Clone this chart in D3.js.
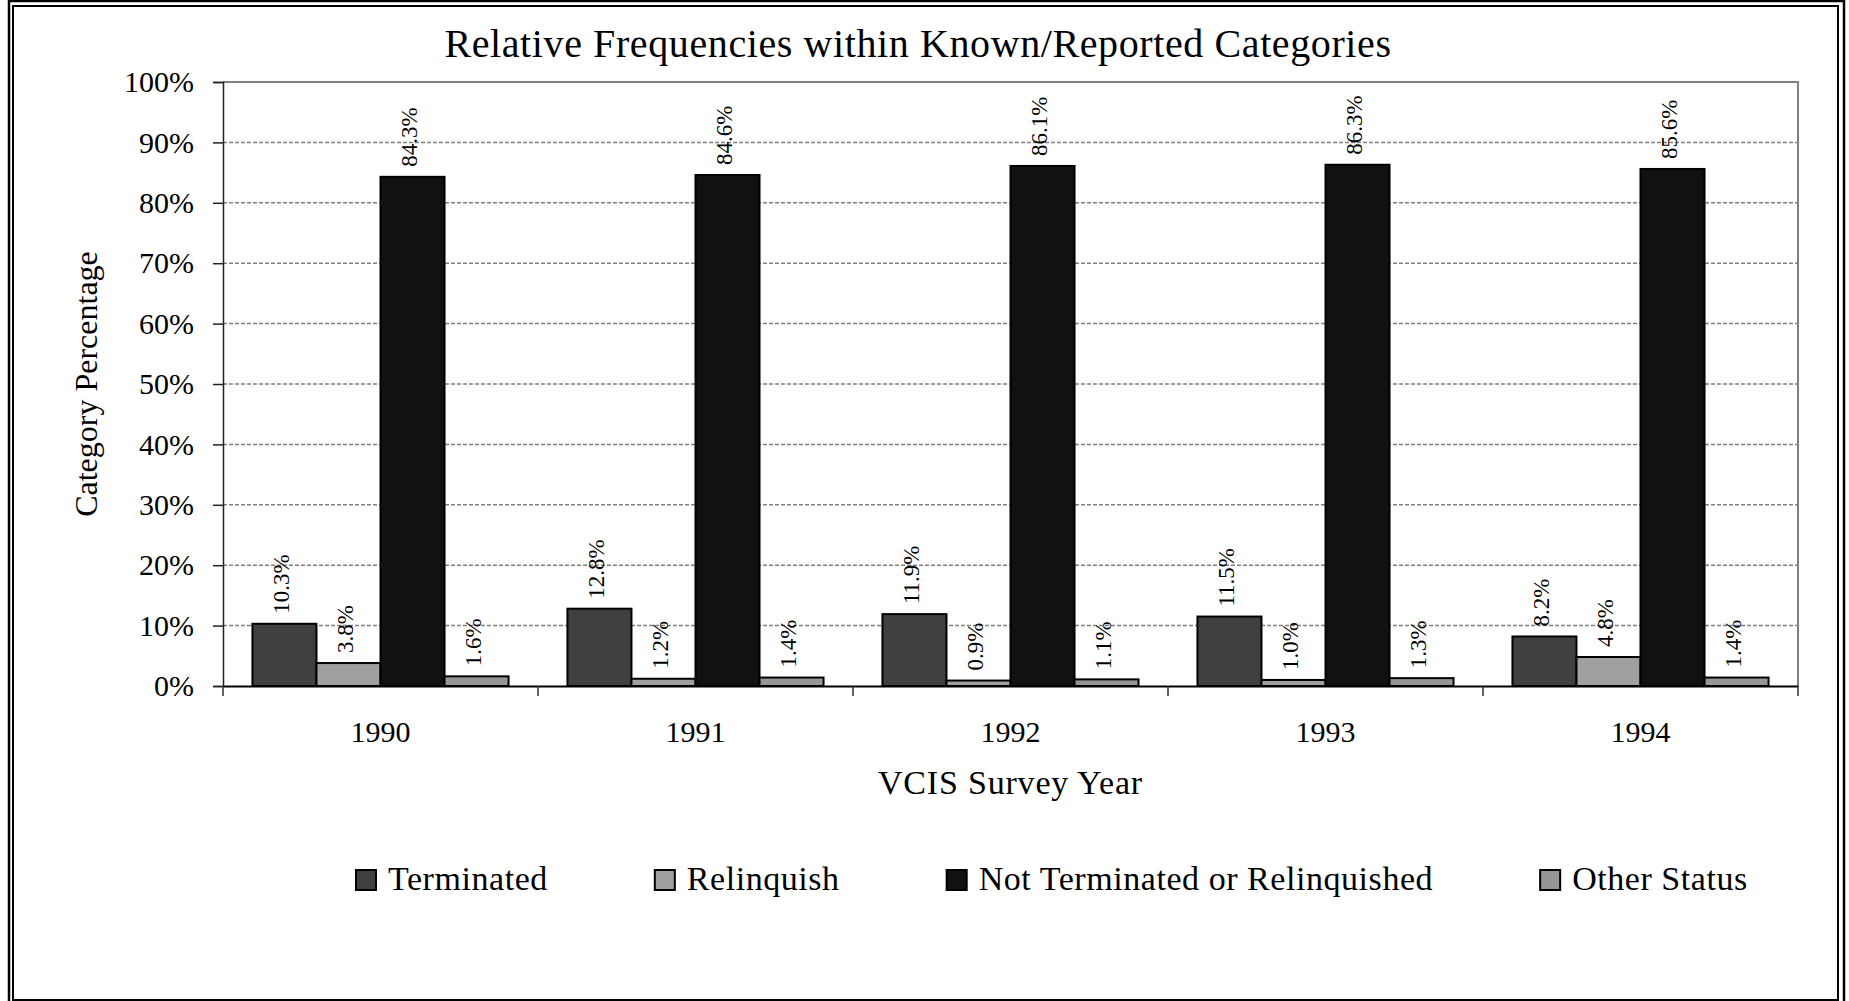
<!DOCTYPE html>
<html>
<head>
<meta charset="utf-8">
<script src="https://cdn.jsdelivr.net/npm/d3@7"></script>
<style>
  body { margin: 0; background: #fff; }
  text { font-family: "Liberation Serif", "Times New Roman", serif; fill: #000; }
</style>
</head>
<body>
<div id="chart"></div>
<script>
// Data
var years = ["1990", "1991", "1992", "1993", "1994"];
var seriesNames = ["Terminated", "Relinquish", "Not Terminated or Relinquished", "Other Status"];
var terminated = [10.3, 12.8, 11.9, 11.5, 8.2];
var relinquish = [3.8, 1.2, 0.9, 1.0, 4.8];
var notTerminated = [84.3, 84.6, 86.1, 86.3, 85.6];
var otherStatus = [1.6, 1.4, 1.1, 1.3, 1.4];
var yTicks = [0, 10, 20, 30, 40, 50, 60, 70, 80, 90, 100];

var colors = ["#404040", "#a0a0a0", "#111111", "#969696"];

var svgWidth = 1849;
var svgHeight = 1001;

var margin = { top: 82, right: 51, bottom: 315, left: 223 };
var width = svgWidth - margin.left - margin.right;
var height = svgHeight - margin.top - margin.bottom;

var svg = d3.select("#chart")
    .append("svg")
    .attr("width", svgWidth)
    .attr("height", svgHeight);

// double frame round the whole chart
svg.append("rect")
    .attr("x", 9).attr("y", 1)
    .attr("width", 1835).attr("height", 1008)
    .attr("fill", "none").attr("stroke", "#000").attr("stroke-width", 2.5);
svg.append("rect")
    .attr("x", 13).attr("y", 6)
    .attr("width", 1825).attr("height", 994)
    .attr("fill", "none").attr("stroke", "#000").attr("stroke-width", 2);

// build rows from the arrays
var allSeries = [terminated, relinquish, notTerminated, otherStatus];
var rows = years.map(function(yr, i) {
    return {
        year: yr,
        values: seriesNames.map(function(name, j) {
            return { name: name, value: allSeries[j][i], color: colors[j] };
        })
    };
});

var chartGroup = svg.append("g")
    .attr("transform", `translate(${margin.left}, ${margin.top})`);

var x0 = d3.scaleBand()
    .domain(years)
    .range([0, width])
    .padding(0);

var x1 = d3.scaleBand()
    .domain(seriesNames)
    .range([0, x0.bandwidth()])
    .paddingInner(0)
    .paddingOuter(0.46);

var y = d3.scaleLinear()
    .domain([0, 100])
    .range([height, 0]);

// gridlines
chartGroup.selectAll(".grid")
    .data(yTicks.filter(d => d > 0 && d < 100))
    .enter()
    .append("line")
    .attr("x1", 0)
    .attr("x2", width)
    .attr("y1", d => y(d))
    .attr("y2", d => y(d))
    .attr("stroke", "#808080")
    .attr("stroke-width", 1.5)
    .attr("stroke-dasharray", "4,2");

// plot frame top and right
chartGroup.append("path")
    .attr("d", `M0,${y(100)}H${width}V${y(0)}`)
    .attr("fill", "none")
    .attr("stroke", "#808080")
    .attr("stroke-width", 2);

// bars
var groups = chartGroup.selectAll(".year")
    .data(rows)
    .enter()
    .append("g")
    .attr("transform", d => `translate(${x0(d.year)}, 0)`);

groups.selectAll("rect")
    .data(d => d.values)
    .enter()
    .append("rect")
    .attr("x", d => x1(d.name))
    .attr("y", d => y(d.value))
    .attr("width", x1.bandwidth())
    .attr("height", d => height - y(d.value))
    .attr("fill", d => d.color)
    .attr("stroke", "#000")
    .attr("stroke-width", 2);

// value labels, rotated
groups.selectAll(".label")
    .data(d => d.values)
    .enter()
    .append("text")
    .attr("transform", d => `translate(${x1(d.name) + x1.bandwidth() / 2}, ${y(d.value) - 10}) rotate(-90)`)
    .attr("dy", "0.2em")
    .attr("font-size", "23px")
    .text(d => d.value.toFixed(1) + "%");

// y axis
var leftAxis = d3.axisLeft(y)
    .tickValues(yTicks)
    .tickSize(10)
    .tickPadding(19)
    .tickFormat(d => d + "%");

var yAxis = chartGroup.append("g").call(leftAxis);
yAxis.select(".domain").attr("stroke", "#222").attr("stroke-width", 1.5);
yAxis.selectAll(".tick line").attr("stroke", "#222").attr("stroke-width", 1.5);
yAxis.selectAll("text")
    .attr("font-size", "30px")
    .attr("font-family", "'Liberation Serif', 'Times New Roman', serif")
    .attr("fill", "#000");

// x axis
var bottomAxis = d3.axisBottom(x0)
    .tickSize(0)
    .tickPadding(35);

var xAxis = chartGroup.append("g")
    .attr("transform", `translate(0, ${height})`)
    .call(bottomAxis);
xAxis.select(".domain").attr("stroke", "#000").attr("stroke-width", 2);
xAxis.selectAll("text")
    .attr("font-size", "30px")
    .attr("font-family", "'Liberation Serif', 'Times New Roman', serif")
    .attr("fill", "#000");

// category boundary ticks
var bounds = years.map(d => x0(d)).concat([width]);
xAxis.selectAll(".bound")
    .data(bounds)
    .enter()
    .append("line")
    .attr("x1", d => d).attr("x2", d => d)
    .attr("y1", 0).attr("y2", 10)
    .attr("stroke", "#333")
    .attr("stroke-width", 1.5);

// titles
svg.append("text")
    .attr("x", 918)
    .attr("y", 57)
    .attr("text-anchor", "middle")
    .attr("font-size", "40px")
    .attr("letter-spacing", "0.6px")
    .text("Relative Frequencies within Known/Reported Categories");

svg.append("text")
    .attr("x", margin.left + width / 2)
    .attr("y", 794)
    .attr("text-anchor", "middle")
    .attr("font-size", "34px")
    .attr("letter-spacing", "0.8px")
    .text("VCIS Survey Year");

svg.append("text")
    .attr("transform", `translate(97, ${margin.top + height / 2}) rotate(-90)`)
    .attr("text-anchor", "middle")
    .attr("font-size", "32px")
    .text("Category Percentage");

// legend
var legend = svg.append("g")
    .attr("transform", "translate(355, 869)");

var lx = 0;
seriesNames.forEach(function(name, i) {
    var item = legend.append("g").attr("transform", `translate(${lx}, 0)`);
    item.append("rect")
        .attr("x", 1).attr("y", 1)
        .attr("width", 20).attr("height", 20)
        .attr("fill", colors[i])
        .attr("stroke", "#000")
        .attr("stroke-width", 2);
    var t = item.append("text")
        .attr("x", 33)
        .attr("y", 21)
        .attr("font-size", "34px")
        .attr("letter-spacing", "0.55px")
        .text(name);
    lx += 33 + t.node().getComputedTextLength() + 106;
});
</script>
</body>
</html>
